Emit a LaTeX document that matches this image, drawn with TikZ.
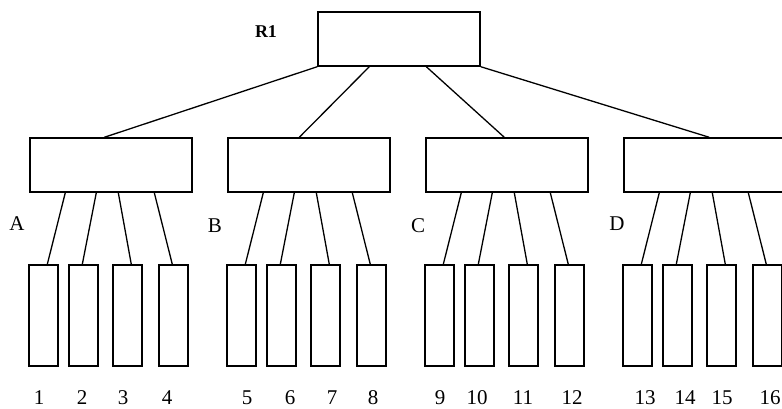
\documentclass[tikz,border=0pt]{standalone}
\usepackage{fontspec}
\setmainfont{Liberation Serif}
\begin{document}
\begin{tikzpicture}[x=1pt,y=-1pt,
  box/.style={draw,line width=1.4pt,inner sep=0pt,minimum width=162pt,minimum height=54pt},
  leaf/.style={draw,line width=1.4pt,inner sep=0pt,minimum width=29pt,minimum height=101pt},
  conn/.style={line width=1.3pt},
  lbl/.style={font=\fontsize{21}{21}\selectfont,inner sep=0pt},
  nlbl/.style={font=\fontsize{21}{21}\selectfont,inner sep=0pt}]
\useasboundingbox[fill=white] (0,0) rectangle (782,408);
\node[box] (R1) at (399,39) {};
\node[font=\fontsize{18}{18}\selectfont\bfseries,inner sep=0pt] (R1l) at (266,32) {R1};
\foreach \g/\k in {A/0,B/1,C/2,D/3}{
  \pgfmathsetmacro{\L}{30+198*\k}
  \node[box] (\g) at (\L+81,165) {};
  \node[leaf] (\g1) at (\L+13.5,315.5) {};
  \node[leaf] (\g2) at (\L+53.5,315.5) {};
  \node[leaf] (\g3) at (\L+97.5,315.5) {};
  \node[leaf] (\g4) at (\L+143.5,315.5) {};
  \draw[conn] ([xshift=36pt]\g.south west) -- ([xshift=19pt]\g1.north west);
  \draw[conn] ([xshift=67pt]\g.south west) -- ([xshift=14pt]\g2.north west);
  \draw[conn] ([xshift=89pt]\g.south west) -- ([xshift=19pt]\g3.north west);
  \draw[conn] ([xshift=125pt]\g.south west) -- ([xshift=14pt]\g4.north west);
}
\draw[conn] (R1.south west) -- ([xshift=75pt]A.north west);
\draw[conn] ([xshift=52pt]R1.south west) -- ([xshift=72pt]B.north west);
\draw[conn] ([xshift=109pt]R1.south west) -- ([xshift=79pt]C.north west);
\draw[conn] (R1.south east) -- ([xshift=86pt]D.north west);
\node[lbl] (la) at (17,224) {A};
\node[lbl] (lb) at (215,226) {B};
\node[lbl] (lc) at (418,226) {C};
\node[lbl] (ld) at (617,224) {D};
\foreach \t/\x in {1/39,2/82,3/123,4/167,5/247,6/290,7/332,8/373,9/440,10/477,11/523,12/572,13/645,14/685,15/722,16/770}{
  \node[nlbl] (n\t) at (\x,398) {\t};
}
\end{tikzpicture}
\end{document}
